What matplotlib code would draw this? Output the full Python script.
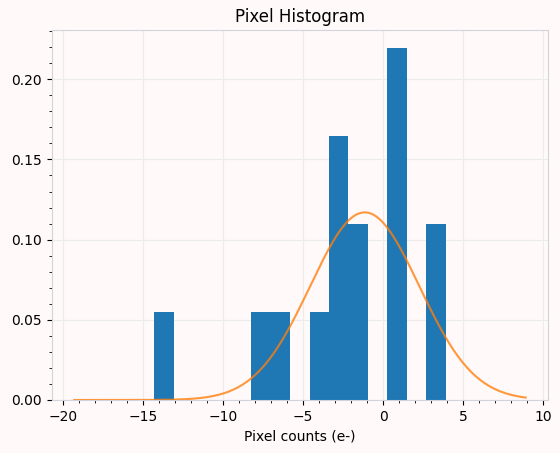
import numpy as np
import matplotlib.pyplot as plt
from matplotlib.ticker import AutoMinorLocator

# Pixel counts (15 pixels, 15 bins)
pixel_counts = [-14.3, -7.5, -6.5, -4.0, -3.0, -2.8, -2.5, -1.8, -1.3,
                0.5, 0.8, 1.0, 1.2, 3.0, 3.9]
n_bins = 15

fit_mu = -1.15
fit_sigma = 3.41

bg = "#fff9f9"

fig = plt.figure(figsize=(5.6, 4.53), dpi=100, facecolor=bg)
ax = fig.add_axes([0.092, 0.117, 0.887, 0.817], facecolor=bg)

ax.hist(pixel_counts, bins=n_bins, density=True, color="C0", zorder=2)

x = np.linspace(min(pixel_counts) - 5, max(pixel_counts) + 5, 200)
pdf = np.exp(-0.5 * ((x - fit_mu) / fit_sigma) ** 2) / (fit_sigma * np.sqrt(2 * np.pi))
ax.plot(x, pdf, color="C1", alpha=0.8, lw=1.5, zorder=3)

ax.set_title("Pixel Histogram")
ax.set_xlabel("Pixel counts (e-)")
ax.xaxis.set_minor_locator(AutoMinorLocator(5))
ax.yaxis.set_minor_locator(AutoMinorLocator(5))
ax.grid(True, color="#ececec", lw=0.8, zorder=0)
ax.set_axisbelow(True)
for s in ax.spines.values():
    s.set_color("#d3d3dc")

fig.savefig("out.png", dpi=100, facecolor=bg)
